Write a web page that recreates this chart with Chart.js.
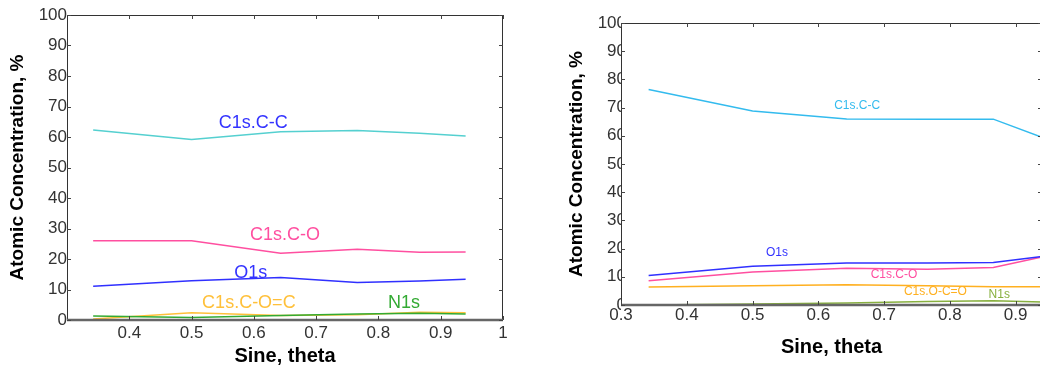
<!DOCTYPE html>
<html>
<head>
<meta charset="utf-8">
<script src="https://cdn.jsdelivr.net/npm/chart.js@4.4.1/dist/chart.umd.min.js"></script>
<style>
  html, body { margin: 0; padding: 0; background: #fff; overflow: hidden; width: 1040px; height: 365px; }
  canvas { position: absolute; top: 0; }
  #left-chart { left: 0; }
  #right-chart { left: 520px; }
</style>
</head>
<body>
<canvas id="left-chart" width="520" height="365"></canvas>
<canvas id="right-chart" width="540" height="365"></canvas>
<script>
// sine of take-off angle (20..70 deg)
const sineTheta = [0.342, 0.5, 0.643, 0.766, 0.866, 0.94];

// left sample
const leftCC  = [62.3, 59.2, 61.7, 62.1, 61.2, 60.3];
const leftCO  = [26.0, 26.0, 21.9, 23.2, 22.2, 22.3];
const leftO1s = [11.1, 12.9, 13.9, 12.3, 12.8, 13.4];
const leftCOC = [0.3, 2.4, 1.5, 1.7, 2.5, 2.4];
const leftN1s = [1.3, 0.8, 1.5, 2.0, 2.2, 2.0];

// right sample
const rightCC  = [76.4, 68.8, 66.0, 65.9, 65.9, 59.5];
const rightO1s = [10.5, 13.7, 14.9, 14.9, 15.1, 17.2];
const rightCO  = [8.6, 11.7, 13.0, 12.7, 13.3, 17.0];
const rightOCO = [6.4, 6.8, 7.2, 6.8, 6.5, 6.5];
const rightN1s = [0.0, 0.35, 0.7, 1.2, 1.5, 1.1];

const yTicks = [0, 10, 20, 30, 40, 50, 60, 70, 80, 90, 100];
const leftXTicks = [0.4, 0.5, 0.6, 0.7, 0.8, 0.9, 1];
const rightXTicks = [0.3, 0.4, 0.5, 0.6, 0.7, 0.8, 0.9];

// in-plot labels: [text, x, y, color]
const leftLabels = [
    ['C1s.C-C', 0.599, 64.6, '#3333ff'],
    ['C1s.C-O', 0.65, 27.9, '#ff4fa0'],
    ['O1s', 0.595, 15.4, '#3333ff'],
    ['C1s.C-O=C', 0.592, 5.6, '#ffc03a'],
    ['N1s', 0.841, 5.6, '#33aa33']
];
const rightLabels = [
    ['C1s.C-C', 0.659, 70.6, '#33bbee'],
    ['O1s', 0.537, 18.6, '#3333ff'],
    ['C1s.C-O', 0.715, 10.7, '#ff4fa0'],
    ['C1s.O-C=O', 0.778, 4.7, '#ffb020'],
    ['N1s', 0.875, 3.6, '#88b040']
];

function pts(ys) {
    return sineTheta.map((x, i) => ({ x: x, y: ys[i] }));
}

function ds(label, ys, color) {
    return { label: label, data: pts(ys), borderColor: color, borderWidth: 1.5, pointRadius: 0, tension: 0, fill: false };
}

// frame, inward ticks and text labels (matlab look)
const framePlugin = {
    id: 'frame',
    afterDraw(chart, args, opts) {
        const ctx = chart.ctx;
        const a = chart.chartArea;
        const xs = chart.scales.x, ys = chart.scales.y;
        ctx.save();
        ctx.strokeStyle = '#333';
        ctx.lineWidth = 1;
        ctx.beginPath();
        ctx.moveTo(a.left + 0.5, a.bottom);
        ctx.lineTo(a.left + 0.5, a.top + 0.5);
        ctx.lineTo(a.right - 0.5, a.top + 0.5);
        ctx.lineTo(a.right - 0.5, a.bottom);
        ctx.stroke();
        ctx.strokeStyle = '#666';
        ctx.lineWidth = 2.5;
        ctx.beginPath();
        ctx.moveTo(a.left, a.bottom);
        ctx.lineTo(a.right, a.bottom);
        ctx.stroke();
        ctx.strokeStyle = '#444';
        ctx.lineWidth = 1;
        const tl = 4;
        opts.xTicks.forEach(v => {
            const px = Math.round(xs.getPixelForValue(v)) + 0.5;
            ctx.beginPath();
            ctx.moveTo(px, a.bottom); ctx.lineTo(px, a.bottom - tl);
            ctx.moveTo(px, a.top); ctx.lineTo(px, a.top + tl);
            ctx.stroke();
        });
        yTicks.forEach(v => {
            const py = Math.round(ys.getPixelForValue(v)) + 0.5;
            ctx.beginPath();
            ctx.moveTo(a.left, py); ctx.lineTo(a.left + tl, py);
            ctx.moveTo(a.right, py); ctx.lineTo(a.right - tl, py);
            ctx.stroke();
        });
        ctx.textAlign = 'center';
        ctx.textBaseline = 'middle';
        ctx.font = opts.labelFont;
        opts.labels.forEach(l => {
            ctx.fillStyle = l[3];
            ctx.fillText(l[0], xs.getPixelForValue(l[1]), ys.getPixelForValue(l[2]));
        });
        ctx.restore();
    }
};

function makeChart(id, cfg) {
    return new Chart(document.getElementById(id), {
        type: 'line',
        data: { datasets: cfg.datasets },
        plugins: [framePlugin],
        options: {
            responsive: false,
            animation: false,
            devicePixelRatio: 1,
            layout: { padding: cfg.padding },
            plugins: {
                legend: { display: false },
                tooltip: { enabled: false },
                frame: { xTicks: cfg.xTicks, labels: cfg.labels, labelFont: cfg.labelFont }
            },
            scales: {
                x: {
                    type: 'linear',
                    min: 0.3,
                    max: cfg.xMax,
                    afterBuildTicks: s => { s.ticks = cfg.xTicks.map(v => ({ value: v })); },
                    afterFit: s => { s.height = cfg.xHeight; },
                    grid: { display: false, drawTicks: false },
                    border: { display: false },
                    ticks: {
                        padding: cfg.xTickPad,
                        color: '#333',
                        font: { family: 'Liberation Sans, Arial', size: 17 },
                        maxRotation: 0,
                        autoSkip: false,
                        callback: v => String(v)
                    },
                    title: {
                        display: true,
                        text: 'Sine, theta',
                        color: '#000',
                        font: { family: 'Liberation Sans, Arial', size: 20, weight: 'bold', lineHeight: 1 },
                        padding: { top: 0, bottom: cfg.xTitlePad }
                    }
                },
                y: {
                    min: 0,
                    max: 100,
                    afterBuildTicks: s => { s.ticks = yTicks.map(v => ({ value: v })); },
                    afterFit: s => { s.width = cfg.yWidth; },
                    grid: { display: false, drawTicks: false },
                    border: { display: false },
                    ticks: {
                        padding: cfg.yTickPad,
                        color: '#333',
                        font: { family: 'Liberation Sans, Arial', size: 17 },
                        autoSkip: false
                    },
                    title: {
                        display: true,
                        text: 'Atomic Concentration, %',
                        color: '#000',
                        font: { family: 'Liberation Sans, Arial', size: 19, weight: 'bold', lineHeight: 1 },
                        padding: { top: cfg.yTitlePad, bottom: 0 }
                    }
                }
            }
        }
    });
}

makeChart('left-chart', {
    datasets: [
        ds('C1s.C-C', leftCC, '#55d0d0'),
        ds('C1s.C-O', leftCO, '#ff4fa0'),
        ds('O1s', leftO1s, '#3030ff'),
        ds('N1s', leftN1s, '#33aa33'),
        ds('C1s.C-O=C', leftCOC, '#ffc03a')
    ],
    padding: { left: 0, top: 15, right: 17, bottom: 0 },
    xMax: 1,
    xTicks: leftXTicks,
    xHeight: 45,
    xTickPad: 3,
    xTitlePad: -1,
    yWidth: 67,
    yTickPad: 0,
    yTitlePad: 8.5,
    labels: leftLabels,
    labelFont: '18px "Liberation Sans", Arial'
});

makeChart('right-chart', {
    datasets: [
        ds('C1s.C-C', rightCC, '#33bbee'),
        ds('O1s', rightO1s, '#3030ff'),
        ds('C1s.C-O', rightCO, '#ff4fa0'),
        ds('C1s.O-C=O', rightOCO, '#ffb020'),
        ds('N1s', rightN1s, '#88b040')
    ],
    padding: { left: 0, top: 23, right: 18, bottom: 0 },
    xMax: 0.94,
    xTicks: rightXTicks,
    xHeight: 60,
    xTickPad: 0,
    xTitlePad: 7.5,
    yWidth: 101,
    yTickPad: -5,
    yTitlePad: 47.5,
    labels: rightLabels,
    labelFont: '12px "Liberation Sans", Arial'
});
</script>
</body>
</html>
